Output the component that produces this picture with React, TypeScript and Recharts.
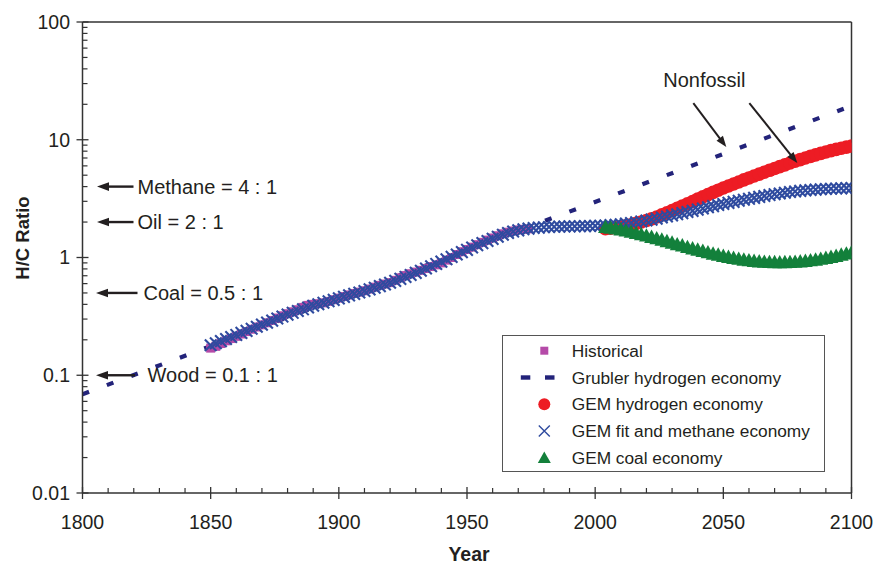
import React from 'react';
import { ComposedChart, Line, Scatter, XAxis, YAxis, ReferenceLine, ReferenceDot, Legend } from 'recharts';

const FONT = '"Liberation Sans", Arial, Helvetica, sans-serif';
const TEXT = '#231f20';
const AXIS = '#333333';
const C_HIST = '#b54aa8';
const C_GRUB = '#23237a';
const C_H2 = '#ed1c24';
const C_FIT = '#2f4b9f';
const C_COAL = '#13803b';

const X_TICKS = [1800, 1850, 1900, 1950, 2000, 2050, 2100];
const X_MINOR = [1810, 1820, 1830, 1840, 1860, 1870, 1880, 1890, 1910, 1920, 1930, 1940, 1960, 1970, 1980, 1990, 2010, 2020, 2030, 2040, 2060, 2070, 2080, 2090];
const Y_TICKS = [0.01, 0.1, 1, 10, 100];
const Y_MINOR = [0.02, 0.03, 0.04, 0.05, 0.06, 0.07, 0.08, 0.09, 0.2, 0.3, 0.4, 0.5, 0.6, 0.7, 0.8, 0.9, 2, 3, 4, 5, 6, 7, 8, 9, 20, 30, 40, 50, 60, 70, 80, 90];

// Historical H/C ratio, every 2 years from 1850
const historicalStart = 1850;
const historicalValues = [
  0.170, 0.176, 0.186, 0.196, 0.205, 0.214, 0.224, 0.235, 0.246, 0.257,
  0.268, 0.279, 0.292, 0.306, 0.320, 0.333, 0.346, 0.360, 0.377, 0.392,
  0.400, 0.405, 0.412, 0.424, 0.438, 0.452, 0.466, 0.481, 0.495, 0.508,
  0.522, 0.540, 0.560, 0.580, 0.595, 0.612, 0.640, 0.672, 0.702, 0.728,
  0.752, 0.778, 0.806, 0.838, 0.866, 0.900, 0.950, 1.000, 1.060, 1.120,
  1.170, 1.225, 1.285, 1.345, 1.405, 1.465, 1.530, 1.590, 1.640, 1.680,
  1.715, 1.735, 1.750,
];

// Grubler hydrogen economy (straight line on log scale)
const grublerYears = [1800, 2100];
const grublerValues = [0.069, 19.4];

// GEM fit and methane economy, every 2 years from 1850
const fitStart = 1850;
const fitValues = [
  0.180, 0.187, 0.195, 0.203, 0.211, 0.220, 0.229, 0.238, 0.248, 0.258,
  0.269, 0.280, 0.291, 0.303, 0.315, 0.327, 0.339, 0.351, 0.363, 0.376,
  0.389, 0.401, 0.413, 0.425, 0.437, 0.450, 0.463, 0.477, 0.491, 0.505,
  0.520, 0.536, 0.553, 0.571, 0.590, 0.610, 0.633, 0.658, 0.684, 0.711,
  0.740, 0.772, 0.806, 0.843, 0.882, 0.922, 0.966, 1.012, 1.060, 1.110,
  1.160, 1.215, 1.270, 1.325, 1.380, 1.440, 1.500, 1.560, 1.615, 1.660,
  1.700, 1.735, 1.760, 1.780, 1.795, 1.805, 1.815, 1.822, 1.828, 1.833,
  1.837, 1.840, 1.843, 1.846, 1.850, 1.855, 1.862, 1.872, 1.885, 1.900,
  1.918, 1.940, 1.965, 1.993, 2.025, 2.060, 2.098, 2.140, 2.185, 2.232,
  2.280, 2.330, 2.382, 2.435, 2.490, 2.550, 2.610, 2.670, 2.730, 2.790,
  2.850, 2.910, 2.970, 3.030, 3.090, 3.150, 3.210, 3.270, 3.330, 3.390,
  3.450, 3.500, 3.550, 3.595, 3.640, 3.680, 3.715, 3.745, 3.770, 3.795,
  3.815, 3.835, 3.850, 3.865, 3.880, 3.890,
];

// GEM hydrogen economy, every 2 years from 2004
const h2Start = 2004;
const h2Values = [
  1.76, 1.77, 1.79, 1.82, 1.86, 1.90, 1.95, 2.00, 2.06, 2.13,
  2.21, 2.30, 2.40, 2.51, 2.62, 2.74, 2.86, 2.99, 3.13, 3.27,
  3.42, 3.57, 3.73, 3.89, 4.05, 4.21, 4.38, 4.56, 4.74, 4.92,
  5.11, 5.30, 5.50, 5.70, 5.91, 6.12, 6.34, 6.56, 6.78, 7.00,
  7.22, 7.44, 7.66, 7.88, 8.08, 8.28, 8.47, 8.65, 8.82,
];

// GEM coal economy, every 2 years from 2004
const coalStart = 2004;
const coalValues = [
  1.82, 1.80, 1.77, 1.74, 1.70, 1.66, 1.62, 1.58, 1.54, 1.50,
  1.46, 1.42, 1.38, 1.34, 1.30, 1.27, 1.23, 1.20, 1.17, 1.14,
  1.11, 1.08, 1.06, 1.035, 1.015, 0.995, 0.978, 0.963, 0.950, 0.939,
  0.930, 0.923, 0.918, 0.915, 0.914, 0.915, 0.918, 0.923, 0.930, 0.939,
  0.950, 0.963, 0.978, 0.995, 1.015, 1.035, 1.06, 1.085, 1.11,
];

const REFS = [
  { label: 'Methane = 4 : 1', value: 4, tip: 14.5, tail: 51, text: 55 },
  { label: 'Oil = 2 : 1', value: 2, tip: 14.5, tail: 51, text: 55 },
  { label: 'Coal = 0.5 : 1', value: 0.5, tip: 13.5, tail: 55, text: 61 },
  { label: 'Wood = 0.1 : 1', value: 0.1, tip: 13.5, tail: 52.5, text: 65 },
];

const LEGEND = [
  { label: 'Historical', kind: 'square' },
  { label: 'Grubler hydrogen economy', kind: 'dash' },
  { label: 'GEM hydrogen economy', kind: 'circle' },
  { label: 'GEM fit and methane economy', kind: 'x' },
  { label: 'GEM coal economy', kind: 'triangle' },
];

const everyTwo = (start: number, values: number[]) => values.map((y, i) => ({ x: start + 2 * i, y }));

const historicalData = everyTwo(historicalStart, historicalValues);
const grublerData = grublerYears.map((x, i) => ({ x, y: grublerValues[i] }));
const fitData = everyTwo(fitStart, fitValues);
const h2Data = everyTwo(h2Start, h2Values);
const coalData = everyTwo(coalStart, coalValues);

function Arrow({ x1, y1, x2, y2, head = 11, half = 4.2, sw = 2.2 }: any) {
  const a = Math.atan2(y2 - y1, x2 - x1);
  const bx = x2 - head * Math.cos(a);
  const by = y2 - head * Math.sin(a);
  const px = -Math.sin(a) * half;
  const py = Math.cos(a) * half;
  return (
    <g>
      <line x1={x1} y1={y1} x2={bx + Math.cos(a) * 1} y2={by + Math.sin(a) * 1} stroke={TEXT} strokeWidth={sw} />
      <polygon points={`${x2},${y2} ${bx + px},${by + py} ${bx - px},${by - py}`} fill={TEXT} />
    </g>
  );
}

const xShape = (p: any) => {
  const { cx, cy } = p;
  const s = 5.8;
  return (
    <path d={`M${cx - s},${cy - s}L${cx + s},${cy + s}M${cx - s},${cy + s}L${cx + s},${cy - s}`} stroke={C_FIT} strokeWidth={2.1} fill="none" />
  );
};
const circleShape = (p: any) => <circle cx={p.cx} cy={p.cy} r={6.8} fill={C_H2} />;
const triShape = (p: any) => (
  <polygon points={`${p.cx},${p.cy - 7.2} ${p.cx + 7.4},${p.cy + 6.2} ${p.cx - 7.4},${p.cy + 6.2}`} fill={C_COAL} />
);
const squareShape = (p: any) => <rect x={p.cx - 4.5} y={p.cy - 4.5} width={9} height={9} fill={C_HIST} />;

function LegendIcon({ kind, x, y }: any) {
  if (kind === 'square') return <rect x={x - 4} y={y - 4} width={8} height={8} fill={C_HIST} />;
  if (kind === 'dash')
    return (
      <g>
        <rect x={x - 23.5} y={y - 2.2} width={9.5} height={4.4} fill={C_GRUB} />
        <rect x={x + 0.7} y={y - 2.2} width={9.5} height={4.4} fill={C_GRUB} />
      </g>
    );
  if (kind === 'circle') return <circle cx={x} cy={y} r={6} fill={C_H2} />;
  if (kind === 'x')
    return <path d={`M${x - 5.5},${y - 5.5}L${x + 5.5},${y + 5.5}M${x - 5.5},${y + 5.5}L${x + 5.5},${y - 5.5}`} stroke={C_FIT} strokeWidth={1.4} />;
  return <polygon points={`${x},${y - 6.5} ${x + 6.5},${y + 5} ${x - 6.5},${y + 5}`} fill={C_COAL} />;
}

function LegendBox() {
  return (
    <div style={{ width: 323, height: 137, boxSizing: 'border-box', border: '1px solid #555', background: '#fff' }}>
      <svg width={321} height={135} style={{ display: 'block' }}>
        {LEGEND.map((item, i) => {
          const y = 14.7 + i * 26.8;
          return (
            <g key={item.label}>
              <LegendIcon kind={item.kind} x={41.3} y={y} />
              <text x={68.7} y={y} dominantBaseline="central" fontFamily={FONT} fontSize={17.3} fill={TEXT}>
                {item.label}
              </text>
            </g>
          );
        })}
      </svg>
    </div>
  );
}

const refShape = (r: any) => (p: any) => {
  const { cx, cy } = p;
  return (
    <g>
      <Arrow x1={cx + r.tail} y1={cy} x2={cx + r.tip} y2={cy} head={12} half={4.3} sw={2.4} />
      <text x={cx + r.text} y={cy} dominantBaseline="central" fontFamily={FONT} fontSize={20} fill={TEXT}>
        {r.label}
      </text>
    </g>
  );
};

const nonfossilShape = (p: any) => {
  const { cx, cy } = p;
  return (
    <g>
      <text x={cx - 19} y={cy - 4} textAnchor="middle" dominantBaseline="central" fontFamily={FONT} fontSize={20} fill={TEXT}>
        Nonfossil
      </text>
      <Arrow x1={cx - 30} y1={cy + 19.5} x2={cx + 3} y2={cy + 63.5} head={11} half={4} sw={2} />
      <Arrow x1={cx + 26} y1={cy + 19.5} x2={cx + 74} y2={cy + 79.5} head={11} half={4} sw={2} />
    </g>
  );
};

const yLabel = (props: any) => {
  const vb = props.viewBox || { x: 0, y: 22, width: 82, height: 471 };
  const cx = vb.x + 22;
  const cy = vb.y + vb.height / 2 - 19.5;
  return (
    <text x={cx} y={cy} transform={`rotate(-90 ${cx} ${cy})`} textAnchor="middle" dominantBaseline="central" fontFamily={FONT} fontWeight="bold" fontSize={18.5} fill={TEXT}>
      H/C Ratio
    </text>
  );
};

const xLabel = (props: any) => {
  const vb = props.viewBox || { x: 82.5, y: 493, width: 769, height: 72 };
  return (
    <text x={vb.x + vb.width / 2 + 2} y={vb.y + 68} textAnchor="middle" fontFamily={FONT} fontWeight="bold" fontSize={19.5} fill={TEXT}>
      Year
    </text>
  );
};

const PX_PER_YEAR = 769 / 300;
const PX_PER_DECADE = 471 / 4;

export default function App() {
  const inYears = (px: number) => px / PX_PER_YEAR;
  const inFactor = (px: number) => Math.pow(10, px / PX_PER_DECADE);
  return (
    <div style={{ position: 'absolute', left: 0, top: 0, width: 875, height: 565, background: '#fff' }}>
      <ComposedChart width={875} height={565} margin={{ top: 22, right: 23.5, bottom: 0, left: 0 }}>
        <XAxis
          dataKey="x"
          type="number"
          domain={[1800, 2100]}
          ticks={X_TICKS}
          allowDataOverflow
          height={72}
          tickSize={6}
          tickMargin={16}
          stroke={AXIS}
          strokeWidth={1.5}
          tick={{ fontFamily: FONT, fontSize: 19.5, fill: TEXT }}
          tickLine={{ stroke: AXIS, strokeWidth: 1.3 }}
          label={xLabel}
        />
        <YAxis
          dataKey="y"
          type="number"
          scale="log"
          domain={[0.01, 100]}
          ticks={Y_TICKS}
          allowDataOverflow
          width={82.5}
          tickSize={6}
          tickMargin={6.5}
          stroke={AXIS}
          strokeWidth={1.5}
          tick={{ fontFamily: FONT, fontSize: 19.5, fill: TEXT }}
          tickLine={{ stroke: AXIS, strokeWidth: 1.3 }}
          tickFormatter={(v: number) => String(v)}
          label={yLabel}
        />
        <ReferenceLine y={100} stroke={AXIS} strokeWidth={1.5} />
        <ReferenceLine x={2100} stroke={AXIS} strokeWidth={1.5} />
        {Y_MINOR.map((v) => (
          <ReferenceLine key={'ym' + v} segment={[{ x: 1800, y: v }, { x: 1800 + inYears(5), y: v }]} stroke={AXIS} strokeWidth={1.2} />
        ))}
        {Y_TICKS.map((v) => (
          <ReferenceLine key={'yM' + v} segment={[{ x: 1800, y: v }, { x: 1800 + inYears(6), y: v }]} stroke={AXIS} strokeWidth={1.3} />
        ))}
        {X_MINOR.map((v) => (
          <ReferenceLine key={'xm' + v} segment={[{ x: v, y: 0.01 }, { x: v, y: 0.01 * inFactor(5) }]} stroke={AXIS} strokeWidth={1.2} />
        ))}
        {X_TICKS.map((v) => (
          <ReferenceLine key={'xM' + v} segment={[{ x: v, y: 0.01 }, { x: v, y: 0.01 * inFactor(6) }]} stroke={AXIS} strokeWidth={1.3} />
        ))}

        <Scatter name="Historical" data={historicalData} dataKey="y" shape={squareShape} isAnimationActive={false} />
        <Line
          name="Grubler hydrogen economy"
          data={grublerData}
          dataKey="y"
          type="linear"
          stroke={C_GRUB}
          strokeWidth={4.2}
          strokeDasharray="7 19"
          dot={false}
          activeDot={false}
          isAnimationActive={false}
        />
        <Scatter name="GEM hydrogen economy" data={h2Data} dataKey="y" shape={circleShape} isAnimationActive={false} />
        <Scatter name="GEM fit and methane economy" data={fitData} dataKey="y" shape={xShape} isAnimationActive={false} />
        <Scatter name="GEM coal economy" data={coalData} dataKey="y" shape={triShape} isAnimationActive={false} />

        {REFS.map((r) => (
          <ReferenceDot key={r.label} x={1800} y={r.value} r={0} shape={refShape(r)} />
        ))}
        <ReferenceDot x={2050} y={30} r={0} shape={nonfossilShape} />

        <Legend
          layout="vertical"
          align="center"
          verticalAlign="middle"
          wrapperStyle={{ left: 502, top: 335, width: 323, height: 137 }}
          content={() => <LegendBox />}
        />
      </ComposedChart>
    </div>
  );
}
